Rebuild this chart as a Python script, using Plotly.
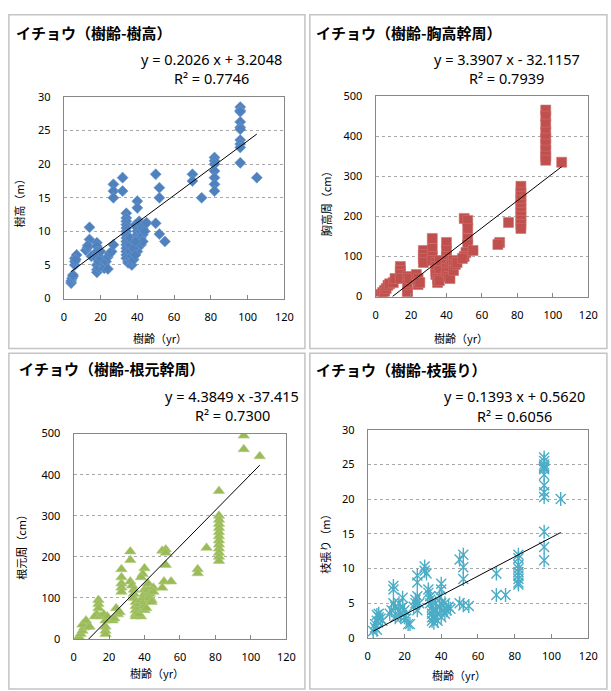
import plotly.graph_objects as go

W, H = 611, 691

# ---------------- data ----------------
titles = ["イチョウ（樹齢-樹高）", "イチョウ（樹齢-胸高幹周）",
          "イチョウ（樹齢-根元幹周）", "イチョウ（樹齢-枝張り）"]
equations = ["y = 0.2026 x + 3.2048", "y = 3.3907 x - 32.1157",
             "y = 4.3849 x -37.415", "y = 0.1393 x + 0.5620"]
r2_labels = ["R² = 0.7746", "R² = 0.7939", "R² = 0.7300", "R² = 0.6056"]
slopes = [0.2026, 3.3907, 4.3849, 0.1393]
intercepts = [3.2048, -32.1157, -37.415, 0.5620]
y_titles = ["樹高（m）", "胸高周（cm）", "根元周（cm）", "枝張り（m）"]
x_title = "樹齢（yr）"
x_ticks = [0, 20, 40, 60, 80, 100, 120]
y_ticks_m = [0, 5, 10, 15, 20, 25, 30]
y_ticks_cm = [0, 100, 200, 300, 400, 500]

# panel 1: tree height (m)
x1 = [4, 4, 4.5, 5, 5,
      6, 6, 6, 7, 6.5,
      12, 13, 14, 14, 13, 15,
      18, 18, 18, 18, 18, 18, 18, 19, 19, 20, 20,
      22, 22, 23, 24, 25, 26, 24,
      27, 27, 27, 27, 32, 32,
      34, 34, 34, 34, 34, 34, 34, 34, 34, 34, 34, 34, 34, 34,
      35, 35, 36, 36, 36, 36, 37, 37, 37, 38,
      40, 40, 39, 40, 40, 40, 40, 40, 40, 40, 40,
      41, 42, 42, 42, 42, 43, 43, 43, 44, 44, 45, 38, 39, 39,
      50, 52, 52, 50, 52, 55,
      70, 70, 75,
      82, 82, 82, 82, 82, 82, 82,
      96, 96, 96, 96, 96, 96, 96, 96, 96, 96,
      105]
y1 = [2.3, 2.6, 3.0, 3.3, 3.5,
      5.0, 5.5, 6.0, 6.5, 5.8,
      7.2, 7.6, 10.6, 8.8, 7.9, 6.3,
      8.3, 7.8, 7.0, 6.0, 5.0, 4.3, 3.9, 4.6, 5.5, 6.0, 7.0,
      5.0, 4.5, 5.5, 6.2, 6.7, 7.0, 4.4,
      8.0, 17.0, 16.0, 15.0, 18.0, 16.0,
      12.7, 12.0, 11.5, 11.0, 10.5, 10.0, 9.5, 9.0, 8.5, 8.0, 7.5, 7.0, 6.5, 6.0,
      5.5, 5.3, 6.0, 7.0, 8.0, 9.0, 5.0, 5.6, 6.3, 5.8,
      14.5, 13.5, 11.0, 10.5, 10.0, 9.5, 9.0, 8.5, 8.0, 7.5, 7.0,
      11.5, 11.0, 10.0, 9.0, 8.0, 10.5, 9.5, 8.5, 11.0, 10.0, 11.3, 7.5, 6.5, 8.5,
      18.5, 16.5, 15.0, 11.2, 9.6, 8.5,
      18.5, 17.5, 15.0,
      21.0, 20.5, 20.0, 19.0, 18.0, 17.0, 16.0,
      28.5, 28.0, 27.8, 26.3, 25.5, 25.2, 23.6, 23.0, 22.5, 20.2,
      18.0]

# panel 2: girth at breast height (cm)
x2 = [3, 4, 5, 5, 6, 7, 8,
      10, 11,
      14, 14, 14, 14,
      18, 18, 18, 18, 19,
      23, 24, 24, 25,
      27, 27, 27, 27,
      32, 32, 32, 32,
      34, 34, 34, 34, 35, 35, 36, 36, 36,
      40, 40, 40, 40, 40, 40, 40, 41, 42, 42, 43, 44, 44, 45, 46,
      50, 52, 52, 52, 52, 51, 50, 49, 55,
      70, 69, 75,
      82, 82, 82, 82, 82, 82, 82, 82, 82, 82, 82,
      96, 96, 96, 96, 96, 96, 96, 96, 96,
      105]
y2 = [5, 10, 15, 8, 20, 28, 32,
      35, 45,
      75, 65, 55, 45,
      50, 30, 10, 5, 45,
      55, 45, 30, 35,
      115, 105, 95, 85,
      145, 120, 100, 90,
      85, 75, 65, 55, 45, 35, 40, 70, 90,
      135, 115, 100, 90, 80, 70, 60, 50, 45, 75, 85, 65, 90, 80, 85,
      195, 190, 170, 145, 130, 110, 100, 95, 115,
      135, 130, 185,
      275, 260, 250, 240, 230, 220, 210, 200, 190, 180, 170,
      465, 450, 430, 410, 395, 380, 365, 350, 340,
      335]

# panel 3: root girth (cm)
x3 = [3, 4, 5, 6, 7, 8, 5, 7, 9,
      14, 14, 14, 13, 12, 15,
      17, 18, 18, 18, 18, 19,
      24, 25, 22, 23, 26,
      27, 27, 27, 27, 27,
      32, 32, 32,
      33, 34, 34, 34, 35, 35, 35, 35, 35, 36, 37, 37, 38, 38, 37,
      40, 39, 38, 40, 40, 40, 40, 40, 40, 41, 42, 42, 43, 43, 44, 44, 45, 45,
      50, 52, 52, 52, 51, 50, 55,
      70, 70, 75,
      82, 82, 82, 82, 82, 82, 82, 82, 82, 82, 82, 82, 82,
      96, 96, 105]
y3 = [5, 12, 20, 28, 40, 30, 35, 45, 30,
      95, 85, 75, 60, 55, 55,
      60, 45, 30, 20, 12, 55,
      75, 60, 45, 50, 65,
      170, 150, 135, 125, 115,
      213, 192, 140,
      130, 120, 110, 100, 90, 80, 70, 60, 55, 65, 75, 85, 95, 55, 60,
      172, 158, 150, 120, 110, 100, 90, 80, 70, 75, 120, 135, 110, 100, 95, 90, 125, 115,
      215, 218, 210, 180, 140, 125, 140,
      170, 160, 222,
      360, 300, 290, 280, 270, 260, 250, 240, 230, 220, 210, 200, 190,
      495, 462, 445]

# panel 4: crown spread (m)
x4 = [3, 4, 4, 5, 5, 6, 6, 7, 5, 8,
      12, 13, 14, 14, 14, 15, 15,
      17, 17, 18, 18, 19, 19, 20, 20, 21, 22, 23,
      25, 26, 26, 27, 27, 28, 27, 27,
      31, 32, 31,
      33, 33, 34, 34, 34, 35, 35, 35, 35, 35, 36, 36, 37, 37, 38, 38, 39, 39,
      40, 40, 40, 40, 41, 42, 42, 43, 44, 45,
      52, 50, 52, 52, 50, 52, 55,
      70, 70, 75,
      82, 82, 82, 82, 82, 82, 82, 82, 82,
      96, 96, 96, 96, 96, 96, 96, 96, 96, 96, 96, 96, 96,
      105]
y4 = [1.0, 1.5, 2.0, 1.2, 2.5, 3.0, 3.5, 2.8, 3.3, 2.5,
      3.5, 4.0, 7.5, 7.0, 5.0, 4.5, 3.0,
      5.0, 4.0, 3.5, 3.0, 5.8, 4.5, 4.0, 3.0, 2.8, 2.0, 2.0,
      4.5, 5.0, 5.5, 6.0, 4.0, 5.0, 9.0, 8.0,
      10.3, 9.3, 9.7,
      7.0, 6.5, 6.0, 5.5, 5.0, 4.5, 4.0, 3.5, 3.0, 2.5, 2.2, 3.0, 4.0, 5.0, 2.5, 3.5, 4.5, 6.0,
      7.8, 7.0, 5.0, 3.0, 4.0, 3.5, 5.0, 4.0, 4.5, 4.2,
      12.0, 11.3, 10.2, 8.5, 5.0, 4.7, 4.6,
      9.3, 6.2, 6.2,
      12.0, 11.5, 10.5, 10.0, 9.5, 9.0, 8.5, 8.0, 7.7,
      26.0, 25.5, 25.0, 24.7, 24.5, 24.3, 23.5, 22.0, 21.0, 20.3, 15.3, 13.1, 11.2,
      20.0]

xs = [x1, x2, x3, x4]
ys = [y1, y2, y3, y4]
y_ranges = [30, 500, 500, 30]
y_tick_sets = [y_ticks_m, y_ticks_cm, y_ticks_cm, y_ticks_m]

# ---------------- layout geometry (pixels) ----------------
areas = [(62, 287, 91, 297), (380, 597, 90, 295), (72, 289, 435, 645), (372, 597, 431, 644)]
panel_boxes = [(6, 308, 7, 348), (313, 616, 7, 348), (6, 308, 353, 696), (313, 616, 353, 696)]
title_pos = [(11, 25), (317, 25), (14, 369), (317, 370)]
eq_pos = [(213, 52, 72), (514, 52, 72), (234, 397, 416), (522, 397, 417)]
xt_pos = [(160, 337), (467, 337), (157, 680), (465, 682)]
yt_pos = [(16, 197), (329, 197), (18, 548), (329, 545)]

def px(x):
    return x / W

def py(y):
    return 1 - y / H

colors = ["#4F81BD", "#C0504D", "#9BBB59", "#4BACC6"]
TXT = "Noto Sans CJK JP"
NUM = "Noto Sans"

fig = go.Figure()
ann = []
shapes = []

for i in range(4):
    xa = "x" if i == 0 else f"x{i+1}"
    ya = "y" if i == 0 else f"y{i+1}"
    c = colors[i]
    if i == 0:
        fig.add_trace(go.Scatter(x=xs[i], y=ys[i], mode="markers", xaxis=xa, yaxis=ya,
                                 marker=dict(symbol="diamond", size=8.5, color=c,
                                             line=dict(width=0.6, color="#6f9bd1"))))
    elif i == 1:
        fig.add_trace(go.Scatter(x=xs[i], y=ys[i], mode="markers", xaxis=xa, yaxis=ya,
                                 marker=dict(symbol="square", size=10, color=c,
                                             line=dict(width=0.6, color="#cf6f6c"))))
    elif i == 2:
        fig.add_trace(go.Scatter(x=xs[i], y=ys[i], mode="markers", xaxis=xa, yaxis=ya,
                                 marker=dict(symbol="triangle-up", size=10, color=c,
                                             line=dict(width=0.6, color="#b0cc7a"))))
    else:
        for sym in ["x-thin-open", "line-ns-open"]:
            fig.add_trace(go.Scatter(x=xs[i], y=ys[i], mode="markers", xaxis=xa, yaxis=ya,
                                     marker=dict(symbol=sym, size=10, color=c,
                                                 line=dict(width=1.4, color=c))))
    # linear trendline from the equation shown in the chart
    x0 = min(xs[i])
    x_end = max(xs[i])
    if slopes[i] * x0 + intercepts[i] < 0:
        x0 = -intercepts[i] / slopes[i]
    fig.add_trace(go.Scatter(x=[x0, x_end],
                             y=[slopes[i] * x0 + intercepts[i], slopes[i] * x_end + intercepts[i]],
                             mode="lines", xaxis=xa, yaxis=ya, hoverinfo="skip",
                             line=dict(color="black", width=1)))

    l, r, t, b = areas[i]
    axis_common = dict(showline=True, mirror=True, linecolor="#878787", linewidth=1,
                       zeroline=False, tickfont=dict(family=NUM, size=11, color="#000"),
                       anchor=ya)
    fig.layout[("xaxis" if i == 0 else f"xaxis{i+1}")] = dict(
        domain=[px(l), px(r)], range=[0, 120], tickvals=x_ticks, showgrid=False,
        ticks="inside", ticklen=4, tickcolor="#878787", ticklabelstandoff=8,
        **axis_common)
    axis_common["anchor"] = xa
    fig.layout[("yaxis" if i == 0 else f"yaxis{i+1}")] = dict(
        domain=[py(b), py(t)], range=[0, y_ranges[i]], tickvals=y_tick_sets[i],
        showgrid=True, gridcolor="#a8a8a8", griddash="dot", gridwidth=1,
        ticks="", ticklabelstandoff=10, **axis_common)

    bl, br, bt, bb = panel_boxes[i]
    shapes.append(dict(type="rect", xref="paper", yref="paper",
                       x0=px(bl), x1=px(br), y0=py(bb), y1=py(bt),
                       line=dict(color="#c4c4c4", width=1.5), fillcolor="rgba(0,0,0,0)",
                       layer="below"))
    tx, ty = title_pos[i]
    ann.append(dict(text=f"<b>{titles[i]}</b>", x=px(tx), y=py(ty), xref="paper", yref="paper",
                    xanchor="left", yanchor="middle", showarrow=False,
                    font=dict(family=TXT, size=15, color="#000")))
    ex, ey1, ey2 = eq_pos[i]
    ann.append(dict(text=equations[i], x=px(ex), y=py(ey1), xref="paper", yref="paper",
                    xanchor="center", yanchor="middle", showarrow=False,
                    font=dict(family=NUM, size=14.5, color="#000")))
    ann.append(dict(text=r2_labels[i], x=px(ex), y=py(ey2), xref="paper", yref="paper",
                    xanchor="center", yanchor="middle", showarrow=False,
                    font=dict(family=NUM, size=14.5, color="#000")))
    xx, xy = xt_pos[i]
    ann.append(dict(text=x_title, x=px(xx), y=py(xy), xref="paper", yref="paper",
                    xanchor="center", yanchor="middle", showarrow=False,
                    font=dict(family=TXT, size=11, color="#000")))
    yx, yy = yt_pos[i]
    ann.append(dict(text=y_titles[i], x=px(yx), y=py(yy), xref="paper", yref="paper",
                    xanchor="center", yanchor="middle", showarrow=False, textangle=-90,
                    font=dict(family=TXT, size=11, color="#000")))

fig.update_layout(width=W, height=H, margin=dict(l=0, r=0, t=0, b=0),
                  paper_bgcolor="white", plot_bgcolor="white", showlegend=False,
                  annotations=ann, shapes=shapes)

fig.write_html("out.html", config={"displayModeBar": False},
               post_script="document.body.style.margin='0';document.body.style.padding='0';"
                           "document.body.style.overflow='hidden';"
                           "document.documentElement.style.overflow='hidden';")
